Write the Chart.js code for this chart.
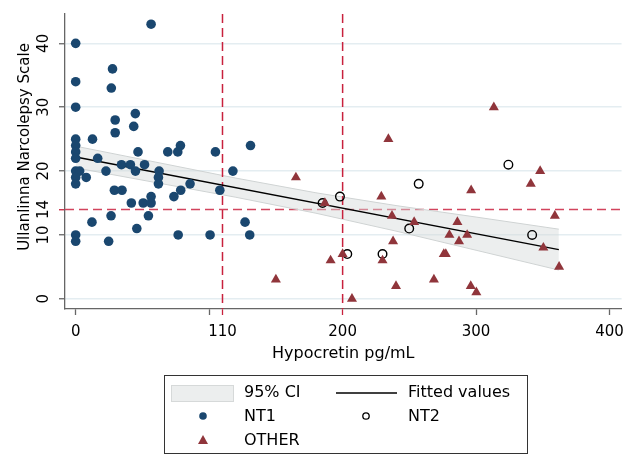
<!DOCTYPE html>
<html>
<head>
<meta charset="utf-8">
<script src="https://cdn.jsdelivr.net/npm/chart.js@4.4.0/dist/chart.umd.min.js"></script>
<style>
  body { margin: 0; background: #fff; }
</style>
</head>
<body>
<canvas id="myChart" width="632" height="454"></canvas>
<script>
var ctx = document.getElementById('myChart').getContext('2d');

// NT1 patients [hypocretin, score]
var nt1 = [
  [0,40],[56.5,43],[0,34],[27.6,36],[26.7,33],[0,30],[44.7,29],[29.6,28],[43.5,27],[29.6,26],
  [0,25],[12.6,25],[0,24],[0,23],[0,22],[46.7,23],[69,23],[78.5,24],[76.5,23],[104.7,23],
  [131,24],[16.5,22],[0,20],[3,20],[0,19],[0,18],[7.9,19],[22.7,20],[34.3,21],[41,21],
  [51.6,21],[44.8,20],[62.5,20],[62,19],[62,18],[85.7,18],[117.8,20],[108,17],[29,17],[34.7,17],
  [41.7,15],[50.6,15],[56.5,15],[56.5,16],[73.6,16],[78.7,17],[26.5,13],[54.5,13],[12.2,12],[126.9,12],
  [45.8,11],[0,10],[0,9],[24.7,9],[76.8,10],[100.7,10],[130.4,10]
];
// NT2 patients
var nt2 = [
  [198,16],[185,15],[257,18],[249.9,11],[203.5,7],[229.9,7],[324.2,21],[342,10]
];
// other patients
var other = [
  [165,19],[234.3,25],[229,16],[186.7,15],[237,13],[253.6,12],[237.8,9],[200,7],[191,6],[229.9,6],
  [275.8,7],[150,3],[240,2],[268.4,3],[207,0],[313.3,30],[348,20],[341,18],[296.3,17],[359,13],
  [286,12],[280,10],[293.3,10],[287.2,9],[277.3,7],[350.4,8],[362.2,5],[296,2],[300.2,1]
];

// fitted line and 95% CI
var fitX = [0, 362];
var fitY = [22.2, 7.7];
var ciX = [0, 60, 120, 180, 240, 300, 362];
var ciLow = [20.5, 18.2, 15.9, 13.4, 10.6, 7.6, 4.5];
var ciHigh = [23.9, 21.4, 18.9, 16.6, 14.6, 12.8, 10.9];

// cut-offs
var xCuts = [110, 200];
var yCut = 14;

var xTickMarks = [0, 100, 110, 200, 300, 400];
var xTickLabels = [0, 110, 200, 300, 400];
var yTicks = [0, 10, 14, 20, 30, 40];

var blue = '#1a476f';
var maroon = '#90353b';
var red = '#c8213d';

Chart.defaults.font.family = 'DejaVu Sans';
Chart.defaults.color = '#000';

function pts(arr) {
  return arr.map(function (p) { return { x: p[0], y: p[1] }; });
}

var refLines = {
  id: 'refLines',
  beforeDatasetsDraw: function (chart) {
    var c = chart.ctx, a = chart.chartArea;
    var y = chart.scales.y.getPixelForValue(yCut);
    c.save();
    c.strokeStyle = '#d2445d';
    c.lineWidth = 1.5;
    c.setLineDash([9, 5]);
    c.beginPath();
    c.moveTo(a.left, y);
    c.lineTo(a.right, y);
    c.stroke();
    c.restore();
  },
  beforeDatasetDraw: function (chart, args) {
    if (args.index !== 2) return;
    var c = chart.ctx, a = chart.chartArea;
    c.save();
    c.strokeStyle = red;
    c.lineWidth = 1.5;
    c.setLineDash([9, 5]);
    xCuts.forEach(function (v) {
      var x = chart.scales.x.getPixelForValue(v);
      c.beginPath();
      c.moveTo(x, a.top);
      c.lineTo(x, a.bottom);
      c.stroke();
    });
    c.restore();
  }
};

// y title drawn by hand: Stata puts it a bit above the plot middle
var yTitle = {
  id: 'yTitle',
  afterDraw: function (chart) {
    var c = chart.ctx;
    c.save();
    c.translate(25, 147);
    c.rotate(-Math.PI / 2);
    c.font = '15px "DejaVu Sans"';
    c.fillStyle = '#000';
    c.textAlign = 'center';
    c.textBaseline = 'middle';
    c.fillText('Ullanlinna Narcolepsy Scale', 0, 0);
    c.restore();
  }
};

var legendBox = {
  id: 'legendBox',
  afterDraw: function (chart) {
    var c = chart.ctx;
    c.save();
    c.strokeStyle = '#333';
    c.lineWidth = 1;
    c.strokeRect(164.5, 375.5, 363, 78);

    c.font = '16px "DejaVu Sans"';
    c.fillStyle = '#000';
    c.textBaseline = 'middle';
    c.fillText('95% CI', 244, 393);
    c.fillText('Fitted values', 408, 393);
    c.fillText('NT1', 244, 417);
    c.fillText('NT2', 408, 417);
    c.fillText('OTHER', 244, 441);

    // swatches
    c.fillStyle = '#eceeee';
    c.fillRect(171, 385, 63, 17);
    c.strokeStyle = '#d6d9d9';
    c.strokeRect(171.5, 385.5, 62, 16);

    c.strokeStyle = '#000';
    c.lineWidth = 1.5;
    c.beginPath();
    c.moveTo(336, 393);
    c.lineTo(397, 393);
    c.stroke();

    c.fillStyle = blue;
    c.beginPath();
    c.arc(203, 416, 3.8, 0, Math.PI * 2);
    c.fill();

    c.strokeStyle = '#000';
    c.lineWidth = 1.3;
    c.beginPath();
    c.arc(366, 416, 3.2, 0, Math.PI * 2);
    c.stroke();

    c.fillStyle = maroon;
    c.beginPath();
    c.moveTo(203, 435);
    c.lineTo(208, 444);
    c.lineTo(198, 444);
    c.closePath();
    c.fill();
    c.restore();
  }
};

var myChart = new Chart(ctx, {
  type: 'scatter',
  data: {
    datasets: [{
      type: 'line',
      label: 'CI low',
      data: ciX.map(function (x, i) { return { x: x, y: ciLow[i] }; }),
      borderColor: '#cfd3d3',
      borderWidth: 1,
      pointRadius: 0,
      fill: false,
      order: 10
    }, {
      type: 'line',
      label: '95% CI',
      data: ciX.map(function (x, i) { return { x: x, y: ciHigh[i] }; }),
      borderColor: '#cfd3d3',
      borderWidth: 1,
      pointRadius: 0,
      backgroundColor: 'rgba(212,217,217,0.45)',
      fill: '-1',
      order: 10
    }, {
      type: 'line',
      label: 'Fitted values',
      data: fitX.map(function (x, i) { return { x: x, y: fitY[i] }; }),
      borderColor: '#000',
      borderWidth: 1.5,
      pointRadius: 0,
      fill: false,
      order: 9
    }, {
      label: 'NT1',
      data: pts(nt1),
      pointStyle: 'circle',
      pointRadius: 4.8,
      backgroundColor: blue,
      borderColor: blue,
      borderWidth: 0,
      order: 3
    }, {
      label: 'NT2',
      data: pts(nt2),
      pointStyle: 'circle',
      pointRadius: 4.3,
      backgroundColor: 'rgba(0,0,0,0)',
      borderColor: '#000',
      borderWidth: 1.4,
      order: 2
    }, {
      label: 'OTHER',
      data: pts(other),
      pointStyle: 'triangle',
      pointRadius: 5.8,
      backgroundColor: maroon,
      borderColor: maroon,
      borderWidth: 0,
      order: 1
    }]
  },
  options: {
    responsive: false,
    animation: false,
    layout: { padding: { left: 0, right: 2, top: 9, bottom: 89 } },
    plugins: {
      legend: { display: false },
      tooltip: { enabled: false }
    },
    scales: {
      x: {
        type: 'linear',
        min: -8,
        max: 409,
        afterBuildTicks: function (s) {
          s.ticks = xTickMarks.map(function (v) { return { value: v }; });
        },
        afterFit: function (s) { s.height = 56; },
        ticks: {
          font: { size: 15 },
          padding: 8,
          callback: function (v) { return xTickLabels.indexOf(v) >= 0 ? String(v) : ''; }
        },
        grid: {
          drawOnChartArea: false,
          tickLength: 6,
          tickWidth: 1.3,
          tickColor: function (c) {
            return c.tick && xCuts.indexOf(c.tick.value) >= 0 ? red : '#666';
          }
        },
        border: { color: '#666', width: 1.3 },
        title: {
          display: true,
          text: 'Hypocretin pg/mL',
          font: { size: 16 },
          padding: { top: 0, bottom: 2 }
        }
      },
      y: {
        type: 'linear',
        min: -1.6,
        max: 44.6,
        afterBuildTicks: function (s) {
          s.ticks = yTicks.map(function (v) { return { value: v }; });
        },
        afterFit: function (s) { s.width = 65; },
        ticks: {
          font: { size: 15 },
          minRotation: 90,
          maxRotation: 90,
          crossAlign: 'center',
          padding: 5
        },
        grid: {
          lineWidth: 1.5,
          color: function (c) {
            return c.tick && c.tick.value === yCut ? 'rgba(0,0,0,0)' : '#e4edf1';
          },
          tickLength: 6,
          tickWidth: 1.3,
          tickColor: function (c) {
            return c.tick && c.tick.value === yCut ? red : '#666';
          }
        },
        border: { color: '#666', width: 1.3 },
        title: { display: false }
      }
    }
  },
  plugins: [refLines, yTitle, legendBox]
});
</script>
</body>
</html>
